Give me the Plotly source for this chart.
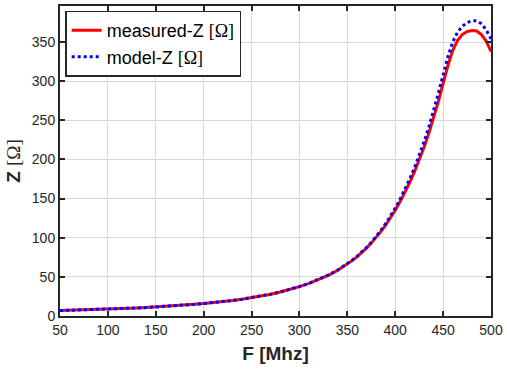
import plotly.graph_objects as go

freq_mhz = [50, 60, 70, 80, 90, 100, 110, 120, 130, 140, 150, 160, 170, 180, 190,
            200, 210, 220, 230, 240, 250, 260, 270, 280, 290, 300, 310, 320, 330, 340,
            350, 355, 360, 365, 370, 375, 380, 385, 390, 395, 400, 405, 410, 415, 420,
            425, 430, 435, 440, 445, 450, 455, 460, 465, 470, 475, 480, 485, 490, 495, 500]

measured_z = [7.0, 7.3, 7.6, 7.9, 8.3, 8.7, 9.2, 9.7, 10.2, 10.8, 11.5, 12.2, 13.0, 13.9, 14.9,
              16.0, 17.1, 18.3, 19.8, 21.4, 23.3, 25.5, 27.9, 30.7, 33.8, 37.5, 41.6, 46.4, 52.0, 58.5,
              66.3, 70.7, 75.5, 80.8, 86.7, 93.1, 100.1, 107.7, 116.0, 125.0, 135.0, 145.8, 157.5, 170.2, 184.0,
              199.0, 215.3, 233.0, 252.5, 274.0, 297.0, 320.0, 339.0, 352.0, 359.5, 363.3, 364.6, 364.0, 359.5, 351.0, 338.0]

model_z = [7.0, 7.3, 7.6, 7.9, 8.3, 8.7, 9.2, 9.7, 10.2, 10.8, 11.5, 12.2, 13.0, 13.9, 14.9,
           16.0, 17.1, 18.3, 19.8, 21.4, 23.3, 25.5, 27.9, 30.7, 33.9, 37.6, 41.8, 46.6, 52.2, 58.7,
           66.6, 71.2, 76.1, 81.5, 87.5, 94.1, 101.4, 109.3, 118.0, 127.4, 137.8, 149.1, 161.3, 174.6, 189.0,
           204.8, 222.1, 241.0, 261.7, 284.2, 307.8, 331.0, 350.0, 362.5, 370.0, 374.8, 377.0, 377.0, 373.5, 365.5, 354.0]

x_ticks = [50, 100, 150, 200, 250, 300, 350, 400, 450, 500]
y_ticks = [0, 50, 100, 150, 200, 250, 300, 350]

serif = "font-family:Liberation Serif,Times New Roman,serif"
name_measured = f'measured-Z <span style="{serif}">[Ω]</span>'
name_model = f'model-Z <span style="{serif}">[Ω]</span>'

fig = go.Figure()
fig.add_trace(go.Scatter(x=freq_mhz, y=measured_z, mode="lines", name=name_measured,
                         line=dict(color="#ff0000", width=3)))
fig.add_trace(go.Scatter(x=freq_mhz, y=model_z, mode="lines", name=name_model,
                         line=dict(color="#0000ff", width=3, dash="dot")))

axis_common = dict(
    showline=True, linecolor="#262626", linewidth=2, mirror="ticks",
    ticks="inside", ticklen=5, tickwidth=1.5, tickcolor="#262626",
    showgrid=True, gridcolor="#d9d9d9", gridwidth=1.2, zeroline=False,
    tickfont=dict(family="Arial, Liberation Sans, sans-serif", size=14, color="#262626"),
)

fig.update_xaxes(range=[50, 500], tickvals=x_ticks,
                 title=dict(text="<b>F [Mhz]</b>", standoff=10,
                            font=dict(family="Arial, Liberation Sans, sans-serif", size=19, color="#262626")),
                 **axis_common)
fig.update_yaxes(range=[0, 396], tickvals=y_ticks,
                 title=dict(text=f'<b>Z</b> <span style="{serif}">[Ω]</span>', standoff=6,
                            font=dict(family="Arial, Liberation Sans, sans-serif", size=19, color="#262626")),
                 **axis_common)

fig.update_layout(
    width=507, height=369,
    margin=dict(l=60, r=13, t=4, b=53),
    paper_bgcolor="white", plot_bgcolor="white",
    font=dict(family="Arial, Liberation Sans, sans-serif", color="#262626"),
    legend=dict(x=0.012, y=0.985, xanchor="left", yanchor="top",
                bgcolor="white", bordercolor="#262626", borderwidth=1.5,
                font=dict(family="Arial, Liberation Sans, sans-serif", size=18, color="#000000"),
                itemwidth=30, tracegroupgap=0),
    showlegend=True,
)

fig.write_html("out.html", config={"displayModeBar": False},
               post_script="document.body.style.margin='0';")
